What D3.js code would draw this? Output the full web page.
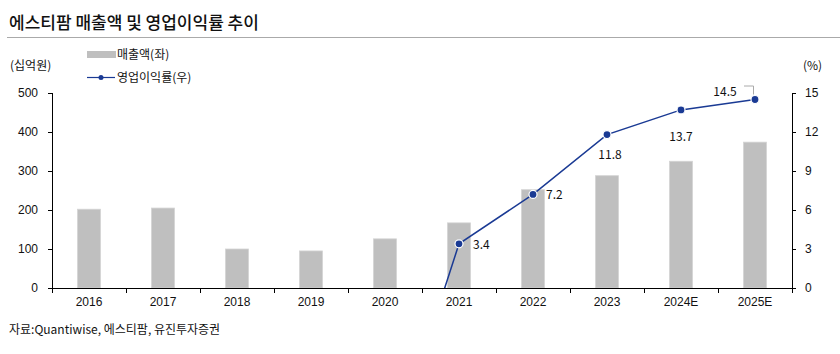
<!DOCTYPE html>
<html>
<head>
<meta charset="utf-8">
<script src="https://cdn.jsdelivr.net/npm/d3@7"></script>
<style>
  body { margin: 0; background: #fff; }
  svg { font-family: "Noto Sans CJK KR", "Noto Sans", sans-serif; }
</style>
</head>
<body>
<svg></svg>
<script>
// data
const years = ['2016', '2017', '2018', '2019', '2020', '2021', '2022', '2023', '2024E', '2025E']
const sales = [202, 205, 100, 95, 126, 167, 252, 288, 325, 374]
const margin = [null, null, null, null, -14.2, 3.4, 7.2, 11.8, 13.7, 14.5]
const leftTicks = [0, 100, 200, 300, 400, 500]
const rightTicks = [0, 3, 6, 9, 12, 15]

const width = 840
const height = 354
const plotLeft = 52, plotRight = 792, plotTop = 93, plotBottom = 288
const blue = '#1a3a94'

let svg = d3.select('svg').attr('width', width).attr('height', height)

// title
svg.append('text')
    .attr('x', 9).attr('y', 29)
    .attr('font-size', 17).attr('font-weight', 500).attr('fill', '#111')
    .text('에스티팜 매출액 및 영업이익률 추이')
svg.append('line')
    .attr('x1', 7).attr('x2', 840).attr('y1', 37.5).attr('y2', 37.5)
    .attr('stroke', '#aaa')

let xScale = d3.scaleBand().domain(years).range([plotLeft, plotRight])
let yScale = d3.scaleLinear().domain([0, 500]).range([plotBottom, plotTop])
let yRight = d3.scaleLinear().domain([0, 15]).range([plotBottom, plotTop])
let cx = y => xScale(y) + xScale.bandwidth() / 2

// bars
svg.selectAll('rect.bar')
    .data(sales)
    .enter()
    .append('rect')
    .attr('class', 'bar')
    .attr('x', (d, i) => cx(years[i]) - 11.5)
    .attr('width', 23)
    .attr('y', d => yScale(d))
    .attr('height', d => plotBottom - yScale(d))
    .attr('fill', '#bfbfbf')
    .attr('stroke', '#d4d4d4')
    .attr('stroke-width', 0.8)

// axes
let tickFont = g => g.selectAll('text').attr('font-size', 12).attr('fill', '#111')

let yAxis = d3.axisLeft(yScale).tickValues(leftTicks).tickSize(4).tickPadding(10)
svg.append('g')
    .attr('transform', 'translate(' + plotLeft + ',0)')
    .call(yAxis)
    .call(g => g.select('.domain').attr('d', 'M0.5,' + plotTop + 'V' + plotBottom))
    .call(tickFont)

let yAxisR = d3.axisRight(yRight).tickValues(rightTicks).tickSize(4).tickPadding(9)
svg.append('g')
    .attr('transform', 'translate(' + plotRight + ',0)')
    .call(yAxisR)
    .call(g => g.select('.domain').attr('d', 'M0.5,' + plotTop + 'V' + plotBottom))
    .call(tickFont)

let xAxis = d3.axisBottom(xScale).tickSize(0).tickPadding(9)
let xg = svg.append('g')
    .attr('transform', 'translate(0,' + plotBottom + ')')
    .call(xAxis)
    .call(g => g.select('.domain').attr('d', 'M' + plotLeft + ',0.5H' + plotRight))
    .call(tickFont)
xg.selectAll('line.sep')
    .data(years.concat(['end']))
    .enter()
    .append('line')
    .attr('class', 'sep')
    .attr('x1', (d, i) => plotLeft + i * xScale.bandwidth() + 0.5)
    .attr('x2', (d, i) => plotLeft + i * xScale.bandwidth() + 0.5)
    .attr('y1', 0).attr('y2', 5)
    .attr('stroke', '#000')

// axis units
svg.append('text').attr('x', 10).attr('y', 70).attr('font-size', 12).attr('fill', '#111').text('(십억원)')
svg.append('text').attr('x', 803).attr('y', 70).attr('font-size', 12).attr('fill', '#111').text('(%)')

// line (clipped to plot area)
svg.append('clipPath').attr('id', 'plot')
    .append('rect').attr('x', plotLeft).attr('y', 0).attr('width', plotRight - plotLeft).attr('height', plotBottom)

let line = d3.line()
    .defined(d => d !== null)
    .x((d, i) => cx(years[i]))
    .y(d => yRight(d))

svg.append('path')
    .datum(margin)
    .attr('clip-path', 'url(#plot)')
    .attr('d', line)
    .attr('fill', 'none')
    .attr('stroke', blue)
    .attr('stroke-width', 1.5)

let pts = margin.map((d, i) => ({ v: d, year: years[i] })).filter(d => d.v !== null && d.v >= 0)

svg.selectAll('circle.pt')
    .data(pts)
    .enter()
    .append('circle')
    .attr('class', 'pt')
    .attr('cx', d => cx(d.year))
    .attr('cy', d => yRight(d.v))
    .attr('r', 4)
    .attr('fill', blue)
    .attr('stroke', '#fff')
    .attr('stroke-width', 1.2)

// value labels
const labelPos = {
    '2021': [14, 5, 'start'],
    '2022': [13, 5, 'start'],
    '2023': [3, 24, 'middle'],
    '2024E': [0, 31, 'middle'],
    '2025E': [-30, -4, 'middle']
}
svg.selectAll('text.val')
    .data(pts)
    .enter()
    .append('text')
    .attr('class', 'val')
    .attr('x', d => cx(d.year) + labelPos[d.year][0])
    .attr('y', d => yRight(d.v) + labelPos[d.year][1])
    .attr('text-anchor', d => labelPos[d.year][2])
    .attr('font-size', 12)
    .attr('fill', '#111')
    .text(d => d.v.toFixed(1))

// leader for last label
let last = pts[pts.length - 1]
let lx = cx(last.year)
let ly = yRight(last.v)
svg.append('path')
    .attr('d', 'M' + (lx - 11) + ',' + (ly - 13.5) + 'H' + (lx - 1.5) + 'V' + (ly - 5))
    .attr('fill', 'none')
    .attr('stroke', '#aaa')
    .attr('stroke-width', 1)

// legend
svg.append('rect').attr('x', 87).attr('y', 51).attr('width', 29).attr('height', 7).attr('fill', '#bfbfbf')
svg.append('text').attr('x', 117).attr('y', 59).attr('font-size', 12).attr('fill', '#111').text('매출액(좌)')
svg.append('line').attr('x1', 87).attr('x2', 115).attr('y1', 77.5).attr('y2', 77.5).attr('stroke', blue).attr('stroke-width', 1.2)
svg.append('circle').attr('cx', 101).attr('cy', 77.5).attr('r', 2.5).attr('fill', blue)
svg.append('text').attr('x', 117).attr('y', 82).attr('font-size', 12).attr('fill', '#111').text('영업이익률(우)')

// source
svg.append('text').attr('x', 9).attr('y', 334).attr('font-size', 12).attr('fill', '#111')
    .text('자료:Quantiwise, 에스티팜, 유진투자증권')
</script>
</body>
</html>
